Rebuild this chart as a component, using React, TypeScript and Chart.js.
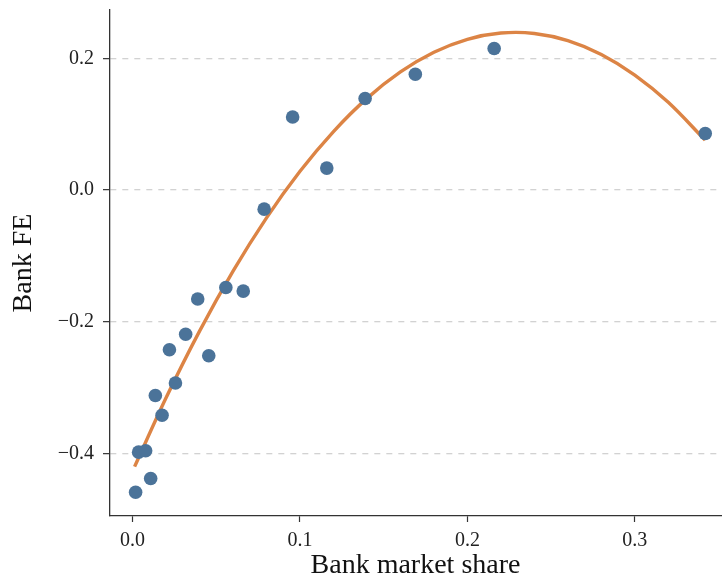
import { useEffect, useRef } from "react";
import { Chart, registerables } from "chart.js";

Chart.register(...registerables);

// Scatter: bank market share vs. bank fixed effect
const shareX = [0.0018, 0.0036, 0.0078, 0.0108, 0.0136, 0.0176, 0.022, 0.0256, 0.0317, 0.0389, 0.0455, 0.0557, 0.0661, 0.0786, 0.0956, 0.116, 0.1389, 0.1689, 0.216, 0.3421];
const bankFE = [-0.459, -0.398, -0.396, -0.438, -0.312, -0.342, -0.2425, -0.293, -0.219, -0.1655, -0.2516, -0.148, -0.1534, -0.029, 0.111, 0.0334, 0.139, 0.176, 0.215, 0.086];

// Quadratic fit line
const fitShare = [0.0012, 0.02, 0.04, 0.06, 0.08, 0.1, 0.12, 0.14, 0.16, 0.18, 0.2, 0.22, 0.24, 0.26, 0.28, 0.3, 0.32, 0.342];
const fitFE = [-0.42, -0.3155, -0.2142, -0.1231, -0.0422, 0.0285, 0.0889, 0.1393, 0.1794, 0.2093, 0.229, 0.2385, 0.2379, 0.227, 0.206, 0.1747, 0.1333, 0.0759];

const xTickValues = [0, 0.1, 0.2, 0.3];
const yTickValues = [-0.4, -0.2, 0, 0.2];

const FAMILY = "'Liberation Serif', 'Times New Roman', serif";

const fmt = (v: number) => (v < -1e-9 ? "\u2212" : "") + Math.abs(v).toFixed(1);

const zeroPad = (s: any) => {
  s.paddingTop = 0;
  s.paddingBottom = 0;
  s.paddingLeft = 0;
  s.paddingRight = 0;
};

export default function App() {
  const ref = useRef<HTMLCanvasElement>(null);

  useEffect(() => {
    const chart = new Chart(ref.current!, {
      type: "scatter",
      data: {
        datasets: [
          {
            type: "scatter",
            data: shareX.map((x, i) => ({ x, y: bankFE[i] })),
            backgroundColor: "#4b7399",
            borderWidth: 0,
            pointRadius: 6.8,
            pointHoverRadius: 6.8,
            order: 0,
          },
          {
            type: "line",
            data: fitShare.map((x, i) => ({ x, y: fitFE[i] })),
            borderColor: "#dc8445",
            borderWidth: 3.4,
            pointRadius: 0,
            tension: 0.35,
            fill: false,
            order: 1,
          },
        ],
      } as any,
      options: {
        responsive: false,
        animation: false,
        devicePixelRatio: 1,
        layout: { autoPadding: false, padding: { top: 10, right: 1, left: 0, bottom: 0 } },
        plugins: { legend: { display: false }, tooltip: { enabled: false } },
        scales: {
          x: {
            type: "linear",
            min: -0.0135,
            max: 0.3515,
            afterBuildTicks: (s: any) => {
              s.ticks = xTickValues.map((v) => ({ value: v }));
            },
            afterFit: (s: any) => {
              s.height = 65;
              zeroPad(s);
            },
            ticks: {
              callback: (v: any) => fmt(Number(v)),
              font: { family: FAMILY, size: 20 },
              color: "#222",
              padding: 7,
              maxRotation: 0,
            },
            grid: { drawOnChartArea: false, tickLength: 6, tickColor: "#333", tickWidth: 1.2 },
            border: { color: "#333", width: 1.3 },
            title: {
              display: true,
              text: "Bank market share",
              font: { family: FAMILY, size: 28 },
              color: "#111",
              padding: { top: 0, bottom: -1 },
            },
          },
          y: {
            type: "linear",
            min: -0.495,
            max: 0.2735,
            afterBuildTicks: (s: any) => {
              s.ticks = yTickValues.map((v) => ({ value: v }));
            },
            afterFit: (s: any) => {
              s.width = 110;
              zeroPad(s);
            },
            ticks: {
              callback: (v: any) => fmt(Number(v)),
              font: { family: FAMILY, size: 20 },
              color: "#222",
              padding: 9,
            },
            grid: { color: "#d2d2d2", lineWidth: 1.3, tickLength: 7, tickColor: "#333", tickWidth: 1.2 },
            border: { color: "#333", width: 1.3, dash: [6, 6] },
            title: {
              display: true,
              text: "Bank FE",
              font: { family: FAMILY, size: 28 },
              color: "#111",
              padding: { top: 7, bottom: 0 },
            },
          },
        },
      } as any,
    });
    return () => chart.destroy();
  }, []);

  return (
    <div style={{ position: "absolute", left: 0, top: 0, width: 722, height: 581 }}>
      <canvas ref={ref} width={722} height={581} />
    </div>
  );
}
